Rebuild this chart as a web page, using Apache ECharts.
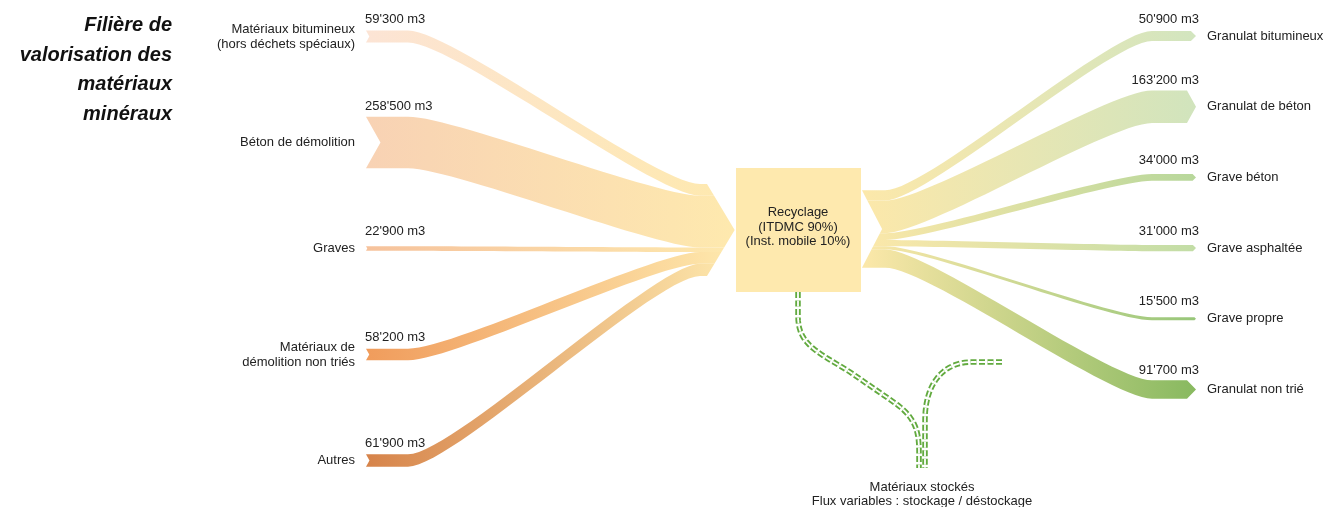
<!DOCTYPE html>
<html lang="fr">
<head>
<meta charset="UTF-8">
<title>Filière de valorisation des matériaux minéraux</title>
<script src="https://cdn.jsdelivr.net/npm/echarts@6/dist/echarts.min.js"></script>
<style>
  html, body { margin: 0; padding: 0; background: #fff; }
  #main { width: 1327px; height: 507px; }
</style>
</head>
<body>
<div id="main"></div>
<script>
  // matériaux entrants (m3)
  var inNames = ['Matériaux bitumineux\n(hors déchets spéciaux)', 'Béton de démolition', 'Graves', 'Matériaux de\ndémolition non triés', 'Autres']
  var inValues = [59300, 258500, 22900, 58200, 61900]

  // produits sortants (m3)
  var outNames = ['Granulat bitumineux', 'Granulat de béton', 'Grave béton', 'Grave asphaltée', 'Grave propre', 'Granulat non trié']
  var outValues = [50900, 163200, 34000, 31000, 15500, 91700]

  var hubText = 'Recyclage\n(ITDMC 90%)\n(Inst. mobile 10%)'
  var stockText = 'Matériaux stockés\nFlux variables : stockage / déstockage'
  var titleText = 'Filière de\nvalorisation des\nmatériaux\nminéraux'

  // couleurs
  var inColors = ['#fce4d5', '#f8d2b4', '#f6c29c', '#f09c5c', '#d6834a']
  var outColors = ['#d2e5bf', '#d1e4bd', '#b7d79b', '#c2dda6', '#97c679', '#88b960']
  var hubColor = '#fee9ae'
  var stockColor = '#62aa3f'

  // mise en page
  var M3_PER_PX = 5000
  var HUB_CY = 230
  var IN_X0 = 366, IN_X1 = 408, IN_X2 = 700, IN_X3 = 707
  var OUT_X0 = 862, OUT_X1 = 885, OUT_X2 = 1152, OUT_TIP = 1196
  var FONT = '13px "Liberation Sans", Arial, sans-serif'
  var TXT = '#222'

  var sum = arr => arr.reduce((s, v) => s + v, 0)
  var before = arr => arr.map((v, i) => sum(arr.slice(0, i)))
  var inTotal = sum(inValues), outTotal = sum(outValues)
  var inBefore = before(inValues), outBefore = before(outValues)

  var fmt = v => String(v).replace(/\B(?=(\d{3})+(?!\d))/g, "'") + ' m3'

  function cubic(p0, p1, p2, p3, n) {
    var pts = []
    for (var k = 0; k <= n; k++) {
      var t = k / n, u = 1 - t
      pts.push([
        u * u * u * p0[0] + 3 * u * u * t * p1[0] + 3 * u * t * t * p2[0] + t * t * t * p3[0],
        u * u * u * p0[1] + 3 * u * u * t * p1[1] + 3 * u * t * t * p2[1] + t * t * t * p3[1]
      ])
    }
    return pts
  }

  // bord de flux : horizontal aux deux bouts, droit au milieu
  var edge = (xa, ya, xb, yb, bend) => cubic([xa, ya], [xa + bend, ya], [xb - bend, yb], [xb, yb], 30)

  function renderIn(params, api) {
    var i = api.value(0), v = api.value(1)
    var cy = api.coord([0, i])[1]
    var w = v / M3_PER_PX
    var total = inTotal / M3_PER_PX
    var a = HUB_CY - total / 2 + inBefore[i] / M3_PER_PX
    var b = a + w
    var tip = total * 0.3
    var xr = y => IN_X3 + tip * (1 - Math.abs(y - HUB_CY) / (total / 2))

    var pts = [[IN_X0, cy - w / 2]].concat(edge(IN_X1, cy - w / 2, IN_X2, a, 45))
    pts.push([xr(a), a])
    if (a < HUB_CY && b > HUB_CY) pts.push([IN_X3 + tip, HUB_CY])
    pts.push([xr(b), b])
    pts = pts.concat(edge(IN_X1, cy + w / 2, IN_X2, b, 45).reverse())
    pts.push([IN_X0, cy + w / 2], [IN_X0 + w * 0.28, cy])

    return {
      type: 'group',
      children: [{
        type: 'polygon',
        shape: { points: pts },
        style: {
          fill: new echarts.graphic.LinearGradient(IN_X0, 0, IN_X3 + tip, 0, [
            { offset: 0, color: inColors[i] },
            { offset: 1, color: hubColor }
          ], true)
        }
      }, {
        type: 'text', x: 355, y: cy,
        style: { text: inNames[i], font: FONT, fill: TXT, align: 'right', verticalAlign: 'middle', lineHeight: 15 }
      }, {
        type: 'text', x: 365, y: cy - Math.max(17, w / 2 + 10),
        style: { text: fmt(v), font: FONT, fill: TXT, align: 'left', verticalAlign: 'middle' }
      }]
    }
  }

  function renderOut(params, api) {
    var j = api.value(0), v = api.value(1)
    var cy = api.coord([0, j])[1]
    var w = v / M3_PER_PX
    var total = outTotal / M3_PER_PX
    var mid = HUB_CY - 1
    var a = mid - total / 2 + outBefore[j] / M3_PER_PX
    var b = a + w
    var notch = total * 0.26
    var xl = y => OUT_X0 + notch * (1 - Math.abs(y - mid) / (total / 2))
    var d = Math.min(9, w / 2)

    var pts = [[xl(a), a]].concat(edge(OUT_X1, a, OUT_X2, cy - w / 2, 42))
    pts.push([OUT_TIP - d, cy - w / 2], [OUT_TIP, cy], [OUT_TIP - d, cy + w / 2])
    pts = pts.concat(edge(OUT_X1, b, OUT_X2, cy + w / 2, 42).reverse())
    pts.push([xl(b), b])
    if (a < mid && b > mid) pts.push([OUT_X0 + notch, mid])

    return {
      type: 'group',
      children: [{
        type: 'polygon',
        shape: { points: pts },
        style: {
          fill: new echarts.graphic.LinearGradient(OUT_X0, 0, OUT_TIP, 0, [
            { offset: 0, color: '#fce8aa' },
            { offset: 1, color: outColors[j] }
          ], true)
        }
      }, {
        type: 'text', x: 1207, y: cy,
        style: { text: outNames[j], font: FONT, fill: TXT, align: 'left', verticalAlign: 'middle' }
      }, {
        type: 'text', x: 1199, y: cy - Math.max(17, w / 2 + 10),
        style: { text: fmt(v), font: FONT, fill: TXT, align: 'right', verticalAlign: 'middle' }
      }]
    }
  }

  // flux de stockage (double trait pointillé)
  var stockA = [[798, 292]].concat(
    cubic([798, 316], [798, 345], [818, 352], [850, 372], 20),
    cubic([895, 403], [916, 418], [919, 432], [919, 452], 20),
    [[919, 468]]
  )
  var stockB = [[1002, 362]].concat(
    cubic([972, 362], [942, 362], [925, 385], [925, 420], 24),
    [[925, 468]]
  )
  var dashed = pts => [
    { type: 'polyline', shape: { points: pts }, style: { stroke: stockColor, lineWidth: 5.5, lineDash: [6, 2.5], fill: null } },
    { type: 'polyline', shape: { points: pts }, style: { stroke: '#fff', lineWidth: 1.8, lineDash: [6, 2.5], fill: null } }
  ]

  var chart = echarts.init(document.getElementById('main'))

  var option = {
    animation: false,
    grid: [
      { left: 0, right: 0, top: 36.5, bottom: 46.5 },
      { left: 0, right: 0, top: 36, bottom: 117.5 }
    ],
    xAxis: [
      { type: 'value', min: 0, max: 1327, show: false, gridIndex: 0 },
      { type: 'value', min: 0, max: 1327, show: false, gridIndex: 1 }
    ],
    yAxis: [
      { type: 'category', data: inNames, inverse: true, boundaryGap: false, show: false, gridIndex: 0 },
      { type: 'category', data: outNames, inverse: true, boundaryGap: false, show: false, gridIndex: 1 }
    ],
    graphic: [
      {
        type: 'text', x: 172, y: 70,
        style: { text: titleText, font: 'italic bold 20px "Liberation Sans", Arial, sans-serif', fill: '#111', align: 'right', verticalAlign: 'middle', lineHeight: 29.5 }
      },
      { type: 'rect', shape: { x: 736, y: 168, width: 125, height: 124 }, style: { fill: hubColor } },
      {
        type: 'text', x: 798, y: 227,
        style: { text: hubText, font: FONT, fill: TXT, align: 'center', verticalAlign: 'middle', lineHeight: 14.5 }
      },
      {
        type: 'text', x: 922, y: 494,
        style: { text: stockText, font: FONT, fill: TXT, align: 'center', verticalAlign: 'middle', lineHeight: 14 }
      }
    ].concat(dashed(stockA), dashed(stockB)),
    series: [
      {
        type: 'custom',
        xAxisIndex: 0,
        yAxisIndex: 0,
        silent: true,
        renderItem: renderIn,
        encode: { x: -1, y: 0 },
        data: inValues.map((v, i) => [i, v])
      },
      {
        type: 'custom',
        xAxisIndex: 1,
        yAxisIndex: 1,
        silent: true,
        renderItem: renderOut,
        encode: { x: -1, y: 0 },
        data: outValues.map((v, j) => [j, v])
      }
    ]
  }

  chart.setOption(option)
</script>
</body>
</html>
